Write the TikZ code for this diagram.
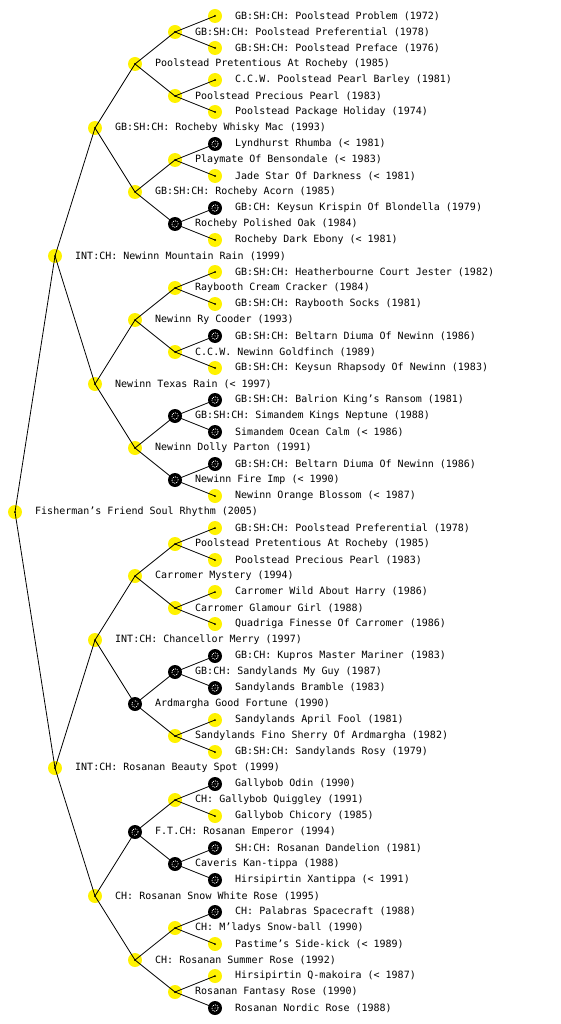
\documentclass[tikz,border=0pt]{standalone}
\usepackage{fontspec}
\setmonofont{DejaVu Sans Mono}
\begin{document}
\begin{tikzpicture}[x=1pt,y=-1pt,
  yn/.style={circle,fill=yellow,minimum size=14pt,inner sep=0pt,
    path picture={\fill[black] (path picture bounding box.center) circle (1pt);}},
  bn/.style={circle,fill=black,minimum size=14pt,inner sep=0pt,
    path picture={\draw[white,line width=0.8pt,dash pattern=on 1pt off 1pt] (path picture bounding box.center) circle (3.2pt);
      \fill[white] (path picture bounding box.center) circle (0.7pt);}},
  lbl/.style={anchor=west,inner sep=0pt,font=\ttfamily\fontsize{10}{12}\selectfont},
  edge/.style={black,line width=0.8pt}]
\useasboundingbox (0,0) rectangle (560,1024);
\newcommand\pn[5]{\node[#1] (#2) at (#3,#4) {}; \node[lbl] (t#2) at (#3+20,#4) {#5};}
% root
\pn{yn}{r}{15}{512}{Fisherman’s Friend Soul Rhythm (2005)}
% level 1
\pn{yn}{n0}{55}{256}{INT:CH: Newinn Mountain Rain (1999)}
\pn{yn}{n1}{55}{768}{INT:CH: Rosanan Beauty Spot (1999)}
% level 2
\pn{yn}{n00}{95}{128}{GB:SH:CH: Rocheby Whisky Mac (1993)}
\pn{yn}{n01}{95}{384}{Newinn Texas Rain (< 1997)}
\pn{yn}{n10}{95}{640}{INT:CH: Chancellor Merry (1997)}
\pn{yn}{n11}{95}{896}{CH: Rosanan Snow White Rose (1995)}
% level 3
\pn{yn}{n000}{135}{64}{Poolstead Pretentious At Rocheby (1985)}
\pn{yn}{n001}{135}{192}{GB:SH:CH: Rocheby Acorn (1985)}
\pn{yn}{n010}{135}{320}{Newinn Ry Cooder (1993)}
\pn{yn}{n011}{135}{448}{Newinn Dolly Parton (1991)}
\pn{yn}{n100}{135}{576}{Carromer Mystery (1994)}
\pn{bn}{n101}{135}{704}{Ardmargha Good Fortune (1990)}
\pn{bn}{n110}{135}{832}{F.T.CH: Rosanan Emperor (1994)}
\pn{yn}{n111}{135}{960}{CH: Rosanan Summer Rose (1992)}
% level 4
\pn{yn}{n0000}{175}{32}{GB:SH:CH: Poolstead Preferential (1978)}
\pn{yn}{n0001}{175}{96}{Poolstead Precious Pearl (1983)}
\pn{yn}{n0010}{175}{160}{Playmate Of Bensondale (< 1983)}
\pn{bn}{n0011}{175}{224}{Rocheby Polished Oak (1984)}
\pn{yn}{n0100}{175}{288}{Raybooth Cream Cracker (1984)}
\pn{yn}{n0101}{175}{352}{C.C.W. Newinn Goldfinch (1989)}
\pn{bn}{n0110}{175}{416}{GB:SH:CH: Simandem Kings Neptune (1988)}
\pn{bn}{n0111}{175}{480}{Newinn Fire Imp (< 1990)}
\pn{yn}{n1000}{175}{544}{Poolstead Pretentious At Rocheby (1985)}
\pn{yn}{n1001}{175}{608}{Carromer Glamour Girl (1988)}
\pn{bn}{n1010}{175}{672}{GB:CH: Sandylands My Guy (1987)}
\pn{yn}{n1011}{175}{736}{Sandylands Fino Sherry Of Ardmargha (1982)}
\pn{yn}{n1100}{175}{800}{CH: Gallybob Quiggley (1991)}
\pn{bn}{n1101}{175}{864}{Caveris Kan-tippa (1988)}
\pn{yn}{n1110}{175}{928}{CH: M’ladys Snow-ball (1990)}
\pn{yn}{n1111}{175}{992}{Rosanan Fantasy Rose (1990)}
% level 5
\pn{yn}{n00000}{215}{16}{GB:SH:CH: Poolstead Problem (1972)}
\pn{yn}{n00001}{215}{48}{GB:SH:CH: Poolstead Preface (1976)}
\pn{yn}{n00010}{215}{80}{C.C.W. Poolstead Pearl Barley (1981)}
\pn{yn}{n00011}{215}{112}{Poolstead Package Holiday (1974)}
\pn{bn}{n00100}{215}{144}{Lyndhurst Rhumba (< 1981)}
\pn{yn}{n00101}{215}{176}{Jade Star Of Darkness (< 1981)}
\pn{bn}{n00110}{215}{208}{GB:CH: Keysun Krispin Of Blondella (1979)}
\pn{yn}{n00111}{215}{240}{Rocheby Dark Ebony (< 1981)}
\pn{yn}{n01000}{215}{272}{GB:SH:CH: Heatherbourne Court Jester (1982)}
\pn{yn}{n01001}{215}{304}{GB:SH:CH: Raybooth Socks (1981)}
\pn{bn}{n01010}{215}{336}{GB:SH:CH: Beltarn Diuma Of Newinn (1986)}
\pn{yn}{n01011}{215}{368}{GB:SH:CH: Keysun Rhapsody Of Newinn (1983)}
\pn{bn}{n01100}{215}{400}{GB:SH:CH: Balrion King’s Ransom (1981)}
\pn{bn}{n01101}{215}{432}{Simandem Ocean Calm (< 1986)}
\pn{bn}{n01110}{215}{464}{GB:SH:CH: Beltarn Diuma Of Newinn (1986)}
\pn{yn}{n01111}{215}{496}{Newinn Orange Blossom (< 1987)}
\pn{yn}{n10000}{215}{528}{GB:SH:CH: Poolstead Preferential (1978)}
\pn{yn}{n10001}{215}{560}{Poolstead Precious Pearl (1983)}
\pn{yn}{n10010}{215}{592}{Carromer Wild About Harry (1986)}
\pn{yn}{n10011}{215}{624}{Quadriga Finesse Of Carromer (1986)}
\pn{bn}{n10100}{215}{656}{GB:CH: Kupros Master Mariner (1983)}
\pn{bn}{n10101}{215}{688}{Sandylands Bramble (1983)}
\pn{yn}{n10110}{215}{720}{Sandylands April Fool (1981)}
\pn{yn}{n10111}{215}{752}{GB:SH:CH: Sandylands Rosy (1979)}
\pn{bn}{n11000}{215}{784}{Gallybob Odin (1990)}
\pn{yn}{n11001}{215}{816}{Gallybob Chicory (1985)}
\pn{bn}{n11010}{215}{848}{SH:CH: Rosanan Dandelion (1981)}
\pn{bn}{n11011}{215}{880}{Hirsipirtin Xantippa (< 1991)}
\pn{bn}{n11100}{215}{912}{CH: Palabras Spacecraft (1988)}
\pn{yn}{n11101}{215}{944}{Pastime’s Side-kick (< 1989)}
\pn{yn}{n11110}{215}{976}{Hirsipirtin Q-makoira (< 1987)}
\pn{bn}{n11111}{215}{1008}{Rosanan Nordic Rose (1988)}
% edges
\foreach \p in {r}{
  \draw[edge] (\p.center) -- (n0.center);
  \draw[edge] (\p.center) -- (n1.center);}
\foreach \p in {n0,n1,n00,n01,n10,n11,n000,n001,n010,n011,n100,n101,n110,n111,
  n0000,n0001,n0010,n0011,n0100,n0101,n0110,n0111,n1000,n1001,n1010,n1011,n1100,n1101,n1110,n1111}{
  \draw[edge] (\p.center) -- (\p0.center);
  \draw[edge] (\p.center) -- (\p1.center);}
\end{tikzpicture}
\end{document}
